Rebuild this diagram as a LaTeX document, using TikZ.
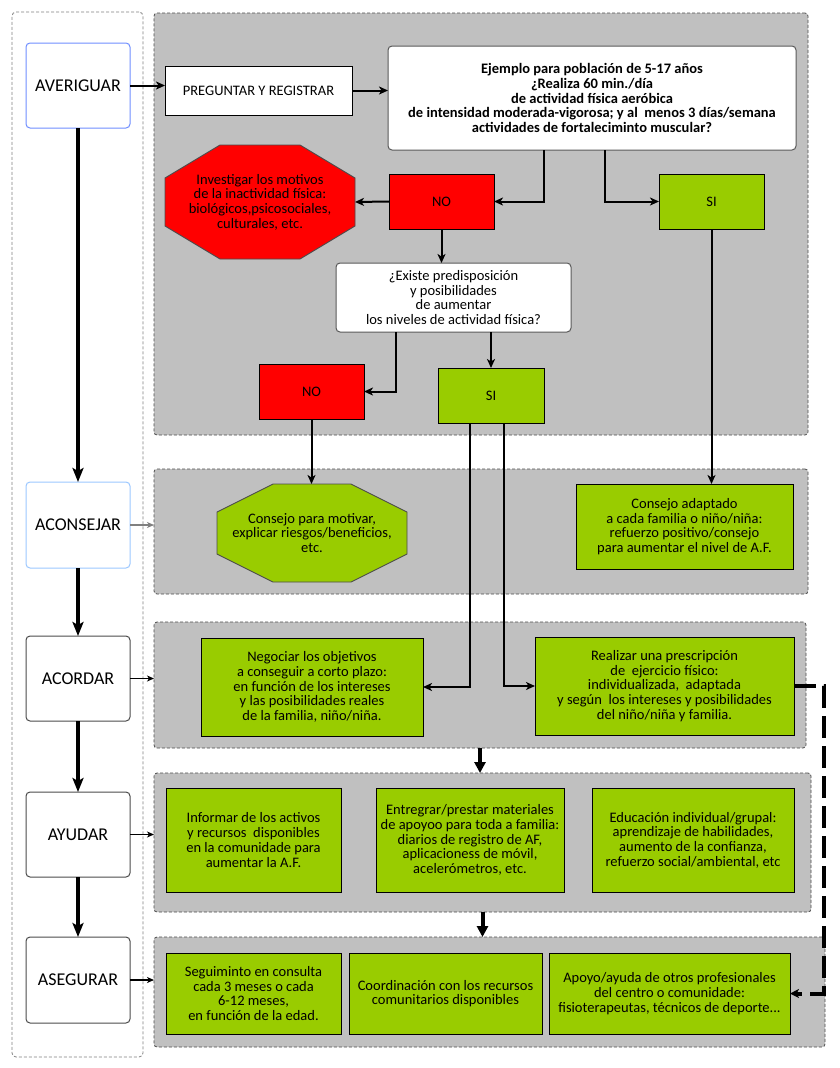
\documentclass[tikz,border=0pt]{standalone}
\usepackage{fontspec}
\setmainfont{Carlito}
\usetikzlibrary{arrows.meta,calc}
\definecolor{cred}{HTML}{FF0000}
\definecolor{cgreen}{HTML}{99CC00}
\definecolor{cgray}{HTML}{C0C0C0}
\definecolor{cblue}{HTML}{6F8EFF}
\definecolor{clblue}{HTML}{9CC8FF}
\pgfdeclarelayer{bg}\pgfdeclarelayer{mid}\pgfsetlayers{bg,mid,main}
\newcommand\mybox[6]{\node[#6,minimum width=#4-#2,minimum height=#5-#3] (#1) at ({(#2+#4)/2},{(#3+#5)/2})}
\newcommand\myoct[4]{%
  \begin{pgfonlayer}{mid}
  \draw[fill=#4, draw=black!70, line width=0.9pt]
    ($(#1.north west)+(#2,0)$) -- ($(#1.north east)+(-#2,0)$) --
    ($(#1.north east)+(0,#3)$) -- ($(#1.south east)+(0,-#3)$) --
    ($(#1.south east)+(-#2,0)$) -- ($(#1.south west)+(#2,0)$) --
    ($(#1.south west)+(0,-#3)$) -- ($(#1.north west)+(0,#3)$) -- cycle;
  \end{pgfonlayer}}
\tikzset{
  txt/.style={font=\fontsize{14.5}{14.7}\selectfont, align=center, inner sep=0pt, outer sep=0pt},
  cont/.style={draw=black!70, dash pattern=on 3pt off 2pt, fill=cgray, rounded corners=3pt, line width=0.8pt, inner sep=0pt, outer sep=0pt},
  frame/.style={draw=black!50, dash pattern=on 3pt off 2pt, fill=white, rounded corners=4pt, line width=0.8pt, inner sep=0pt, outer sep=0pt},
  leftnode/.style={draw=black!70, fill=white, rounded corners=4pt, line width=1pt, font=\fontsize{18}{20}\selectfont, inner sep=0pt, outer sep=0pt},
  gbox/.style={txt, draw=black, fill=cgreen, line width=1pt},
  rbox/.style={txt, draw=black, fill=cred, line width=1pt},
  wbox/.style={txt, draw=black!65, fill=white, rounded corners=4pt, line width=1pt},
  sbox/.style={txt, draw=black, fill=white, line width=1pt},
  octo/.style={txt},
  conn/.style={line width=2pt, -{Stealth[length=9pt,width=8pt,inset=2.5pt]}},
  thin/.style={line width=1.1pt, -{Stealth[length=7pt,width=6pt,inset=2pt]}},
  lthick/.style={line width=3.5pt, -{Stealth[length=14pt,width=11pt,inset=3pt]}},
  bthick/.style={line width=4pt, -{Triangle[length=11pt,width=11pt]}},
  dashconn/.style={line width=4pt, dash pattern=on 22pt off 8pt, -{Stealth[length=9pt,width=9pt,inset=2.5pt]}},
}
\begin{document}
\begin{tikzpicture}[x=1pt,y=-1pt]
\useasboundingbox (0,0) rectangle (840,1068);
\begin{pgfonlayer}{bg}
\mybox{lf}{12}{12}{143}{1057}{frame}{};
\mybox{c1}{154}{13}{808}{435}{cont}{};
\mybox{c2}{154}{469}{808}{594}{cont}{};
\mybox{c3}{154}{622}{806}{748}{cont}{};
\mybox{c4}{154}{773}{811}{912}{cont}{};
\mybox{c5}{154}{937}{825}{1047}{cont}{};
\end{pgfonlayer}

% left column
\mybox{ave}{26}{43}{130}{128}{leftnode,draw=cblue}{AVERIGUAR};
\mybox{aco}{26}{482}{130}{568}{leftnode,draw=clblue}{ACONSEJAR};
\mybox{acor}{26}{636}{130}{721}{leftnode}{ACORDAR};
\mybox{ayu}{26}{792}{130}{877}{leftnode}{AYUDAR};
\mybox{ase}{26}{937}{130}{1023}{leftnode}{ASEGURAR};

% container 1
\mybox{preg}{165}{66}{352}{115}{sbox}{PREGUNTAR Y REGISTRAR};
\mybox{q1}{388}{46}{796}{150}{wbox,font=\fontsize{14.5}{14.6}\selectfont\bfseries}{Ejemplo para población de 5-17 años\\¿Realiza 60 min./día\\de actividad física aeróbica\\de intensidad moderada-vigorosa; y al\ \ menos 3 días/semana\\actividades de fortaleciminto muscular?};
\mybox{no1}{389}{174}{494}{229}{rbox}{NO};
\mybox{si1}{659}{174}{764}{229}{gbox}{SI};
\mybox{oct1}{165}{145}{355}{259}{octo}{Investigar los motivos\\de la inactividad física:\\biológicos,psicosociales,\\culturales, etc.};
\myoct{oct1}{55}{33}{cred}
\mybox{q2}{336}{263}{571}{332}{wbox}{¿Existe predisposición\\y posibilidades\\de aumentar\\los niveles de actividad física?};
\mybox{no2}{259}{364}{364}{419}{rbox}{NO};
\mybox{si2}{438}{368}{544}{423}{gbox}{SI};

% container 2
\mybox{oct2}{217}{484}{407}{582}{octo}{Consejo para motivar,\\explicar riesgos/beneficios,\\etc.};
\myoct{oct2}{56}{28}{cgreen}
\mybox{adapt}{576}{484}{793}{569}{gbox}{Consejo adaptado\\a cada familia o niño/niña:\\refuerzo positivo/consejo\\para aumentar el nivel de A.F.};

% container 3
\mybox{neg}{201}{638}{423}{736}{gbox}{Negociar los objetivos\\a conseguir a corto plazo:\\en función de los intereses\\y las posibilidades reales\\de la familia, niño/niña.};
\mybox{real}{535}{637}{794}{735}{gbox}{Realizar una prescripción\\de\ \ ejercicio físico:\\individualizada,\ \ adaptada\\y según\ \ los intereses y posibilidades\\del niño/niña y familia.};

% container 4
\mybox{inf}{166}{788}{341}{892}{gbox}{Informar de los activos\\y recursos\ \ disponibles\\en la comunidade para\\aumentar la A.F.};
\mybox{ent}{376}{788}{564}{892}{gbox}{Entregrar/prestar materiales\\de apoyoo para toda a familia:\\diarios de registro de AF,\\aplicacioness de móvil,\\acelerómetros, etc.};
\mybox{edu}{592}{788}{794}{892}{gbox}{Educación individual/grupal:\\aprendizaje de habilidades,\\aumento de la confianza,\\refuerzo social/ambiental, etc};

% container 5
\mybox{seg}{166}{953}{341}{1034}{gbox}{Seguiminto en consulta\\cada 3 meses o cada\\6-12 meses,\\en función de la edad.};
\mybox{coord}{349}{953}{542}{1034}{gbox}{Coordinación con los recursos\\comunitarios disponibles};
\mybox{apoyo}{549}{953}{790}{1034}{gbox}{Apoyo/ayuda de otros profesionales\\del centro o comunidade:\\fisioterapeutas, técnicos de deporte...};

% left column arrows
\draw[lthick] (ave.south) -- (aco.north);
\draw[lthick] (aco.south) -- (acor.north);
\draw[lthick] (acor.south) -- (ayu.north);
\draw[lthick] (ayu.south) -- (ase.north);

% left to right
\draw[conn] (ave.east) -- (ave.east -| preg.west);
\draw[thin, draw=black!50] (aco.east) -- (aco.east -| c2.west);
\draw[thin] (acor.east) -- (acor.east -| c3.west);
\draw[thin] (ayu.east) -- (ayu.east -| c4.west);
\draw[thin] (ase.east) -- (ase.east -| c5.west);

% container 1 connectors
\draw[conn] (preg.east) -- (preg.east -| q1.west);
\draw[conn] ([xshift=-48pt]q1.south) |- (no1.east);
\draw[conn] ([xshift=13pt]q1.south) |- (si1.west);
\draw[conn] (no1.west) -- (oct1.east);
\draw[conn] (no1.south) -- (no1.south |- q2.north);
\draw[conn] ([xshift=-57.5pt]q2.south) |- (no2.east);
\draw[conn] ([xshift=37.5pt]q2.south) -- (si2.north);

% downward
\draw[conn] (no2.south) -- (no2.south |- oct2.north);
\draw[conn] (si1.south) -- (si1.south |- adapt.north);
\draw[conn] ([xshift=-21pt]si2.south) |- (neg.east);
\draw[conn] ([xshift=13pt]si2.south) |- (real.west);

% between containers
\draw[bthick] (c3.south) -- (c3.south |- c4.north);
\draw[bthick] (c4.south) -- (c4.south |- c5.north);

% dashed feedback
\draw[dashconn] (real.east) -- ++(30,0) |- (apoyo.east);
\end{tikzpicture}
\end{document}
